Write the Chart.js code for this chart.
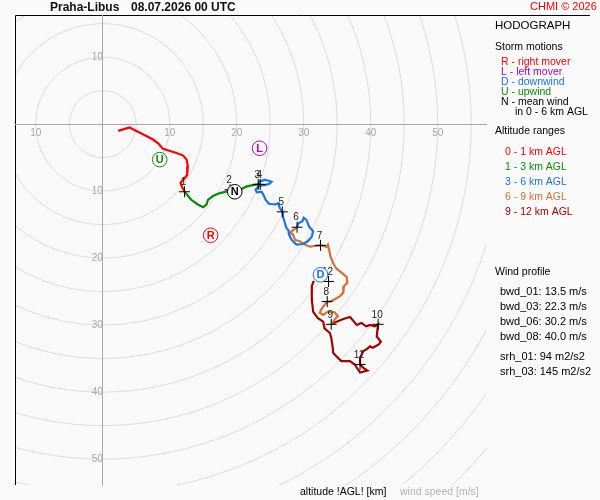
<!DOCTYPE html>
<html>
<head>
<meta charset="utf-8">
<title>Hodograph Praha-Libus</title>
<script src="https://cdn.jsdelivr.net/npm/chart.js@4.4.1/dist/chart.umd.min.js"></script>
<style>
    html, body { margin: 0; padding: 0; background: #fafafa; }
    #hodo { display: block; }
</style>
</head>
<body>
<canvas id="hodo" width="600" height="500"></canvas>
<script>
// wind vectors, [u, v] in m/s (v is drawn growing downwards)
const layer0_1 = [[2.3, 1.0], [4.0, 0.5], [4.8, 0.9], [6.0, 1.5], [7.5, 2.3], [8.3, 2.9], [9.0, 3.7],
    [11.0, 4.3], [12.0, 4.7], [12.5, 5.3], [12.7, 6.3], [12.6, 7.6], [12.1, 8.2], [11.6, 8.8],
    [11.8, 9.3], [12.2, 10.1]];
const layer1_3 = [[12.2, 10.1], [12.7, 10.7], [13.2, 11.3], [14.2, 12.0], [15.0, 12.4], [15.5, 12.0],
    [15.7, 11.3], [16.5, 10.7], [17.5, 10.3], [18.7, 10.0], [19.7, 9.9], [20.7, 9.7], [21.5, 9.3],
    [22.4, 9.1], [23.2, 9.0]];
const layer3_6 = [[23.2, 9.0], [23.4, 8.6], [24.2, 8.3], [25.2, 8.6], [24.9, 8.9], [24.2, 9.1], [23.4, 9.2],
    [22.8, 9.8], [23.0, 10.2], [23.7, 10.1], [24.0, 10.6], [24.3, 11.3], [24.8, 11.9], [25.7, 12.0],
    [26.2, 11.8], [26.4, 12.5], [26.8, 13.1], [26.9, 13.8], [27.2, 14.8], [27.4, 15.5], [27.7, 15.8],
    [27.8, 16.5], [28.2, 17.3], [28.9, 18.0], [29.9, 17.9], [30.6, 17.5], [31.2, 16.8], [31.4, 16.0],
    [30.8, 15.3], [30.4, 14.3], [30.0, 14.0], [29.8, 14.5], [29.2, 14.8], [29.0, 15.4]];
const layer6_9 = [[29.0, 15.4], [28.2, 16.0], [27.9, 16.2], [28.4, 16.5], [28.7, 17.3], [29.4, 17.5],
    [30.2, 18.0], [30.9, 18.3], [31.6, 18.2], [32.5, 18.1], [33.4, 18.3], [33.6, 18.0], [33.9, 19.3],
    [34.0, 19.8], [34.4, 20.8], [34.8, 21.5], [35.4, 22.0], [36.4, 22.8], [36.5, 23.7], [36.0, 24.2],
    [35.9, 25.2], [35.4, 25.7], [34.6, 26.2], [33.9, 26.5], [33.5, 26.5], [33.1, 27.0], [32.6, 27.7],
    [32.4, 28.2], [32.9, 28.5], [33.6, 28.0], [34.6, 28.1], [35.1, 28.7], [34.6, 29.2], [34.1, 29.9]];
const layer9_12 = [[34.1, 29.9], [34.9, 29.5], [35.9, 29.1], [36.9, 28.8], [37.5, 29.5], [37.9, 30.0],
    [38.6, 29.7], [39.3, 30.2], [39.9, 30.0], [40.6, 30.2], [41.1, 29.9], [41.0, 30.7], [40.9, 31.7],
    [41.5, 32.5], [41.2, 32.9], [40.3, 33.4], [39.9, 33.2], [39.4, 33.6], [38.9, 33.9], [38.4, 34.9],
    [38.4, 35.9], [38.9, 36.4], [39.5, 36.8], [38.4, 37.1], [37.6, 35.9], [36.9, 35.4], [35.6, 35.4],
    [35.1, 34.9], [34.4, 34.2], [34.3, 33.2], [34.1, 31.9], [33.9, 31.2], [33.1, 30.5], [32.9, 29.5],
    [32.1, 29.0], [31.4, 28.0], [31.2, 26.2], [31.2, 24.2], [31.5, 23.4]];

// km marks along the profile
const kmLabels = ["1", "2", "3", "4", "5", "6", "7", "8", "9", "10", "11", "12"];
const kmU = [12.2, 19.0, 23.2, 23.5, 26.8, 29.0, 32.5, 33.5, 34.1, 41.1, 38.4, 33.7];
const kmV = [10.1, 9.8, 9.0, 9.0, 13.1, 15.4, 18.1, 26.5, 29.9, 29.9, 35.9, 23.5];

// storm motions
const stormLetters = ["R", "L", "D", "U", "N"];
const stormU = [16.1, 23.4, 32.5, 8.5, 19.7];
const stormV = [16.6, 3.6, 22.5, 5.3, 10.1];

const ringSpeeds = [5, 10, 15, 20, 25, 30, 35, 40, 45, 50, 55, 60, 65, 70, 75, 80];
const axisTicks = [10, 20, 30, 40, 50];

const stormLegend = ["R - right mover", "L - left mover", "D - downwind", "U - upwind", "N - mean wind"];
const layerLegend = ["0 - 1 km AGL", "1 - 3 km AGL", "3 - 6 km AGL", "6 - 9 km AGL", "9 - 12 km AGL"];
const windProfile = ["bwd_01: 13.5 m/s", "bwd_03: 22.3 m/s", "bwd_06: 30.2 m/s", "bwd_08: 40.0 m/s"];
const helicity = ["srh_01: 94 m2/s2", "srh_03: 145 m2/s2"];

const FONT = "'Liberation Sans', Arial, sans-serif";
const layerColors = ["#ff0000", "#0a8a0a", "#2070e6", "#d0703a", "#a00000"];
const stormColors = ["#ff0000", "#b000c0", "#2070e6", "#0a8a0a", "#000000"];

const toXY = (pts) => pts.map((p) => ({ x: p[0], y: p[1] }));

function hodoText(ctx, s, x, y, color, font, align) {
    ctx.fillStyle = color;
    ctx.font = font;
    ctx.textAlign = align || "left";
    ctx.textBaseline = "middle";
    ctx.fillText(s, x, y);
}

const hodoDecor = {
    id: "hodoDecor",
    beforeDraw(chart) {
        const { ctx, chartArea: a, scales } = chart;
        const cx = scales.x.getPixelForValue(0);
        const cy = scales.y.getPixelForValue(0);
        const unit = scales.x.getPixelForValue(1) - cx;
        ctx.save();
        ctx.beginPath();
        ctx.rect(a.left, a.top, a.right - a.left, a.bottom - a.top);
        ctx.clip();
        ctx.strokeStyle = "#dcdcdc";
        ctx.lineWidth = 1;
        ringSpeeds.forEach((r) => {
            ctx.beginPath();
            ctx.arc(cx, cy, r * unit, 0, Math.PI * 2);
            ctx.stroke();
        });
        ctx.restore();

        // frame: top and left edge only
        ctx.save();
        ctx.strokeStyle = "#000";
        ctx.lineWidth = 1;
        ctx.beginPath();
        ctx.moveTo(a.left + 0.5, a.bottom);
        ctx.lineTo(a.left + 0.5, a.top + 0.5);
        ctx.lineTo(590, a.top + 0.5);
        ctx.stroke();
        ctx.restore();
    },
    afterDatasetDraw(chart, args) {
        const ctx = chart.ctx;
        const kind = chart.data.datasets[args.index].kind;
        const points = args.meta.data;
        if (kind === "km") {
            ctx.save();
            points.forEach((pt, i) => {
                hodoText(ctx, kmLabels[i], pt.x - 1, pt.y - 9.5, "#222", "10px " + FONT, "center");
            });
            ctx.restore();
        } else if (kind === "storm") {
            ctx.save();
            points.forEach((pt, i) => {
                hodoText(ctx, stormLetters[i], pt.x, pt.y + 0.5, stormColors[i], "bold 11px " + FONT, "center");
            });
            ctx.restore();
        }
    },
    afterDraw(chart) {
        const ctx = chart.ctx;
        ctx.save();
        hodoText(ctx, "Praha-Libus", 50, 8, "#111", "bold 12px " + FONT);
        hodoText(ctx, "08.07.2026 00 UTC", 131, 8, "#111", "bold 12px " + FONT);
        hodoText(ctx, "CHMI \u00a9 2026", 530, 7, "#ff0000", "11px " + FONT);
        hodoText(ctx, "HODOGRAPH", 495, 26, "#000", "11.5px " + FONT);

        hodoText(ctx, "Storm motions", 495, 47, "#000", "10.5px " + FONT);
        stormLegend.forEach((s, i) => {
            hodoText(ctx, s, 501, 62 + i * 10, stormColors[i], "10.5px " + FONT);
        });
        hodoText(ctx, "in 0 - 6 km AGL", 515, 112, "#000", "10.5px " + FONT);

        hodoText(ctx, "Altitude ranges", 495, 131, "#000", "10.5px " + FONT);
        layerLegend.forEach((s, i) => {
            hodoText(ctx, s, 505, 152 + i * 15, layerColors[i], "10.5px " + FONT);
        });

        hodoText(ctx, "Wind profile", 495, 272, "#000", "10.5px " + FONT);
        windProfile.forEach((s, i) => {
            hodoText(ctx, s, 500, 291.5 + i * 15, "#000", "11px " + FONT);
        });
        helicity.forEach((s, i) => {
            hodoText(ctx, s, 500, 357 + i * 14.5, "#000", "11px " + FONT);
        });

        hodoText(ctx, "altitude !AGL! [km]", 300, 492, "#000", "10.5px " + FONT);
        hodoText(ctx, "wind speed [m/s]", 400, 492, "#b4b4b4", "10.5px " + FONT);
        ctx.restore();
    }
};

const axisTickOpts = {
    stepSize: 10,
    includeBounds: false,
    autoSkip: false,
    maxRotation: 0,
    padding: 3,
    color: "#a8a8a8",
    font: { family: FONT, size: 10 },
    callback: (v) => (axisTicks.includes(Math.abs(v)) ? String(Math.abs(v)) : "")
};

const layers = [layer0_1, layer1_3, layer3_6, layer6_9, layer9_12];

const datasets = [
    {
        kind: "storm",
        data: stormU.map((u, i) => ({ x: u, y: stormV[i] })),
        showLine: false,
        pointStyle: "circle",
        pointRadius: 7.3,
        pointBackgroundColor: "#fafafa",
        pointBorderColor: stormColors,
        pointBorderWidth: 1,
        order: 0
    },
    {
        kind: "km",
        data: kmU.map((u, i) => ({ x: u, y: kmV[i] })),
        showLine: false,
        pointStyle: "cross",
        pointRadius: 5.5,
        pointBorderColor: "#000",
        pointBorderWidth: 1,
        order: 1
    }
].concat(layers.map((pts, i) => ({
    kind: "layer",
    data: toXY(pts),
    showLine: true,
    borderColor: layerColors[i],
    borderWidth: 2.2,
    pointRadius: 0,
    tension: 0,
    order: 2
})));

new Chart(document.getElementById("hodo"), {
    type: "scatter",
    data: { datasets: datasets },
    options: {
        responsive: false,
        animation: false,
        events: [],
        layout: { padding: { left: 15, top: 15, right: 114, bottom: 15 } },
        plugins: {
            legend: { display: false },
            tooltip: { enabled: false },
            title: { display: false }
        },
        scales: {
            x: {
                type: "linear",
                min: -13.1,
                max: 57.2,
                position: { y: 0 },
                grid: { display: false, drawTicks: false },
                border: { display: true, color: "#a8a8a8", width: 1 },
                ticks: axisTickOpts
            },
            y: {
                type: "linear",
                reverse: true,
                min: -16.3,
                max: 53.9,
                position: { x: 0 },
                grid: { display: false, drawTicks: false },
                border: { display: true, color: "#a8a8a8", width: 1 },
                ticks: axisTickOpts
            }
        }
    },
    plugins: [hodoDecor]
});
</script>
</body>
</html>
